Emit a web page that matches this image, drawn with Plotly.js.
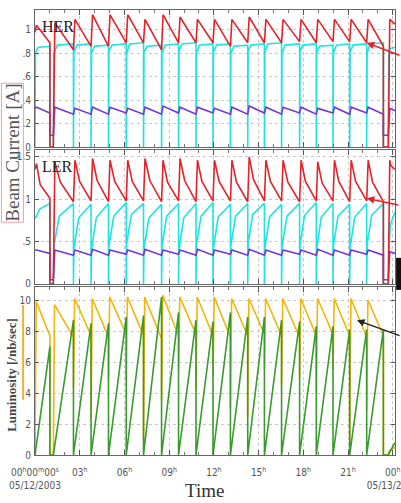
<!DOCTYPE html>
<html><head><meta charset="utf-8">
<script src="https://cdn.plot.ly/plotly-3.0.1.min.js"></script>
<style>html,body{margin:0;padding:0;background:#fff;}#chart{width:401px;height:503px;}</style>
</head><body><div id="chart"></div>
<script>
// ---- fill (injection) schedule, hours from 00h 05/12/2003 ----
const fillStart = [0.00, 1.23, 2.58, 3.76, 4.93, 6.12, 7.28, 8.49, 9.63, 10.80, 11.94, 13.11, 14.27, 15.39, 16.54, 17.75, 18.87, 19.99, 21.11, 22.25, 23.70];
const fillEnd   = [1.00, 2.58, 3.76, 4.93, 6.12, 7.28, 8.49, 9.63, 10.80, 11.94, 13.11, 14.27, 15.39, 16.54, 17.75, 18.87, 19.99, 21.11, 22.25, 23.37, 24.15];

// ---- HER beam current [A] ----
const herFirst = 0.98;
const herPeak = [1.04, 1.06, 1.09, 1.13, 1.13, 1.13, 1.09, 1.13, 1.11, 1.09, 1.09, 1.09, 1.11, 1.09, 1.09, 1.09, 1.09, 1.09, 1.09, 1.09, 1.09];
const herEnd  = [0.89, 0.83, 0.86, 0.86, 0.89, 0.89, 0.83, 0.89, 0.89, 0.89, 0.86, 0.89, 0.89, 0.89, 0.90, 0.89, 0.90, 0.90, 0.89, 0.86, 1.05];
// HER cyan
const herCyDip   = [0, 0, 0, 0, 0, 0, 0, 0, 0, 0, 0, 0, 0, 0, 0, 0, 0, 0, 0, 0, 0];
const herCyStart = [0.80, 0.80, 0.81, 0.80, 0.82, 0.80, 0.81, 0.80, 0.82, 0.80, 0.81, 0.80, 0.82, 0.81, 0.80, 0.82, 0.81, 0.80, 0.81, 0.80, 0.78];
const herCyMid   = [0.85, 0.87, 0.87, 0.86, 0.87, 0.88, 0.86, 0.87, 0.88, 0.87, 0.87, 0.86, 0.87, 0.88, 0.87, 0.87, 0.86, 0.87, 0.87, 0.88, 0.84];
const herCyEnd   = [0.86, 0.88, 0.88, 0.87, 0.88, 0.89, 0.87, 0.88, 0.89, 0.88, 0.88, 0.87, 0.88, 0.89, 0.88, 0.88, 0.87, 0.88, 0.88, 0.89, 0.85];
// HER purple
const herPuFirst = 0.33;
const herPuPeak = [0.34, 0.34, 0.33, 0.34, 0.34, 0.33, 0.34, 0.35, 0.34, 0.34, 0.33, 0.34, 0.35, 0.34, 0.34, 0.34, 0.33, 0.34, 0.34, 0.34, 0.33];
const herPuEnd  = [0.29, 0.28, 0.28, 0.28, 0.29, 0.28, 0.28, 0.29, 0.28, 0.29, 0.28, 0.28, 0.29, 0.28, 0.29, 0.28, 0.29, 0.28, 0.29, 0.28, 0.31];

// ---- LER beam current [A] ----
const lerFirst = 1.35;
const lerPeak = [1.42, 1.44, 1.46, 1.48, 1.46, 1.46, 1.48, 1.46, 1.48, 1.46, 1.46, 1.46, 1.50, 1.46, 1.46, 1.46, 1.44, 1.46, 1.46, 1.46, 1.46];
const lerMid  = [1.17, 1.20, 1.21, 1.22, 1.21, 1.21, 1.22, 1.20, 1.22, 1.21, 1.21, 1.20, 1.23, 1.21, 1.20, 1.21, 1.19, 1.21, 1.21, 1.20, 1.40];
const lerEnd  = [1.01, 0.97, 0.98, 0.97, 0.98, 0.98, 0.97, 0.98, 0.97, 0.98, 0.98, 0.97, 0.98, 0.98, 0.97, 0.98, 0.98, 0.97, 0.98, 0.97, 1.35];
// LER cyan
const lerCyDip   = [0.78, 0, 0, 0, 0, 0, 0, 0, 0, 0, 0, 0, 0, 0, 0, 0, 0, 0, 0, 0, 0];
const lerCyStart = [0.78, 0.45, 0.42, 0.40, 0.45, 0.48, 0.42, 0.45, 0.40, 0.46, 0.42, 0.45, 0.48, 0.42, 0.44, 0.46, 0.42, 0.45, 0.43, 0.46, 0.40];
const lerCyMid   = [0.88, 0.80, 0.78, 0.78, 0.80, 0.82, 0.78, 0.80, 0.78, 0.80, 0.79, 0.80, 0.82, 0.79, 0.80, 0.81, 0.79, 0.80, 0.79, 0.81, 0.70];
const lerCyEnd   = [0.95, 0.95, 0.94, 0.95, 0.96, 0.95, 0.94, 0.95, 0.95, 0.96, 0.94, 0.95, 0.95, 0.94, 0.95, 0.96, 0.95, 0.94, 0.95, 0.95, 0.85];
// LER purple
const lerPuFirst = 0.40;
const lerPuPeak = [0.40, 0.40, 0.40, 0.41, 0.40, 0.40, 0.41, 0.40, 0.40, 0.41, 0.40, 0.40, 0.41, 0.40, 0.40, 0.40, 0.41, 0.40, 0.40, 0.40, 0.38];
const lerPuEnd  = [0.36, 0.34, 0.34, 0.34, 0.35, 0.34, 0.34, 0.35, 0.34, 0.34, 0.35, 0.34, 0.34, 0.34, 0.35, 0.34, 0.34, 0.34, 0.35, 0.34, 0.36];

// ---- Luminosity [/nb/sec] ----
const lumDip  = [0, 0, 4.3, 2.4, 5.0, 4.8, 1.0, 3.5, 5.5, 4.2, 5.0, 3.0, 2.5, 5.5, 4.5, 5.0, 4.0, 5.5, 0.5, 2.9, 0];
const lumPeak = [9.9, 9.7, 10.1, 10.1, 10.2, 10.2, 10.2, 10.3, 10.2, 10.2, 10.2, 10.1, 10.1, 10.1, 10.1, 10.1, 10.1, 10.1, 10.1, 10.0, 0.3];
const lumEnd  = [7.7, 7.6, 7.7, 7.6, 7.8, 7.7, 7.5, 7.7, 7.8, 7.7, 7.6, 7.7, 7.8, 7.7, 7.6, 7.7, 7.8, 7.7, 7.6, 7.7, 0.5];
// integrated luminosity per fill (green)
const intZero = [0, 0, 0, 0, 0, 0, 0, 0, 0, 0, 0, 0, 0, 0, 0, 0, 0, 0, 0, 0, 0];
const intEnd  = [7.0, 8.7, 8.5, 8.5, 8.9, 9.0, 10.2, 9.2, 8.7, 8.6, 9.2, 8.9, 8.9, 8.7, 8.6, 8.3, 8.3, 8.1, 8.1, 8.1, 0.8];

// ---- axis ticks ----
const xTickVals = [0, 3, 6, 9, 12, 15, 18, 21, 24];
const xTickText = ['00<sup>h</sup>00<sup>m</sup>00<sup>s</sup><br>05/12/2003', '03<sup>h</sup>', '06<sup>h</sup>', '09<sup>h</sup>', '12<sup>h</sup>', '15<sup>h</sup>', '18<sup>h</sup>', '21<sup>h</sup>', '00<sup>h</sup><br>05/13/2003'];
const herTickVals = [0, 0.2, 0.4, 0.6, 0.8, 1];
const herTickText = ['0', '.2', '.4', '.6', '.8', '1'];
const lerTickVals = [0, 0.5, 1, 1.5];
const lerTickText = ['0', '.5', '1', '1.5'];
const lumTickVals = [0, 2, 4, 6, 8, 10];

// ---- builders ----
function sawtooth(first, peak, end, abortVal, rise, mid, midFrac) {
  const x = [], y = [];
  for (let i = 0; i < fillStart.length; i++) {
    const s = fillStart[i], e = fillEnd[i];
    if (i === 0) { x.push(s); y.push(first); }
    else if (s > fillEnd[i - 1] + 1e-9) { x.push(fillEnd[i - 1], s); y.push(abortVal, abortVal); }
    x.push(s + rise); y.push(peak[i]);
    if (mid) { x.push(s + midFrac * (e - s)); y.push(mid[i]); }
    x.push(e); y.push(end[i]);
  }
  return {x, y};
}
function dropSeries(dip, start, end, abortVal, rise, mid, midFrac) {
  const x = [], y = [];
  for (let i = 0; i < fillStart.length; i++) {
    const s = fillStart[i], e = fillEnd[i];
    if (i > 0 && s > fillEnd[i - 1] + 1e-9) { x.push(fillEnd[i - 1], s); y.push(abortVal, abortVal); }
    else { x.push(s); y.push(dip[i]); }
    x.push(s + rise); y.push(start[i]);
    if (mid) { x.push(s + midFrac * (e - s)); y.push(mid[i]); }
    x.push(e); y.push(end[i]);
  }
  return {x, y};
}

const RED = '#e4222a', CYAN = '#1fe3e3', PURPLE = '#7338d8', YELLOW = '#f2b50a', GREEN = '#3a9a2e';
function tr(d, xa, ya, color) {
  return {x: d.x, y: d.y, xaxis: xa, yaxis: ya, type: 'scatter', mode: 'lines',
          line: {color: color, width: 1.6}, hoverinfo: 'skip'};
}

const traces = [
  tr(dropSeries(herCyDip, herCyStart, herCyEnd, 0, 0.03, herCyMid, 0.2), 'x3', 'y3', CYAN),
  tr(sawtooth(herPuFirst, herPuPeak, herPuEnd, 0.10, 0.1), 'x3', 'y3', PURPLE),
  tr(sawtooth(herFirst, herPeak, herEnd, 0, 0.1), 'x3', 'y3', RED),
  tr(dropSeries(lerCyDip, lerCyStart, lerCyEnd, 0, 0.03, lerCyMid, 0.3), 'x2', 'y2', CYAN),
  tr(sawtooth(lerPuFirst, lerPuPeak, lerPuEnd, 0.05, 0.1), 'x2', 'y2', PURPLE),
  tr(sawtooth(lerFirst, lerPeak, lerEnd, 0, 0.1, lerMid, 0.35), 'x2', 'y2', RED),
  tr(dropSeries(lumDip, lumPeak, lumEnd, 0, 0.08), 'x', 'y', YELLOW),
  tr(dropSeries(intZero, intZero, intEnd, 0, 0), 'x', 'y', GREEN)
];

const tickFont = {family: "'Liberation Sans Narrow', 'DejaVu Sans Condensed', 'Arial Narrow', sans-serif", size: 10, color: '#555'};
const serif = "'Liberation Serif', 'DejaVu Serif', serif";
function xax(anchor, labels) {
  return {anchor: anchor, range: [0, 24.15], domain: [0, 1], tickmode: 'array', tickvals: xTickVals,
          ticktext: xTickText, showticklabels: labels, ticks: 'inside', ticklen: 5, tickcolor: '#555',
          minor: {tickmode: 'linear', tick0: 0, dtick: 1, ticks: 'inside', ticklen: 3, tickcolor: '#777', showgrid: false},
          showline: true, linecolor: '#666', linewidth: 1, mirror: 'ticks', showgrid: true,
          gridcolor: '#c8c8c8', griddash: 'dot', gridwidth: 1, zeroline: false, tickfont: tickFont,
          ticklabelstandoff: 8, ticklabeloverflow: 'allow', fixedrange: true};
}
function yax(domain, range, vals, text) {
  const a = {domain: domain, range: range, tickmode: 'array', tickvals: vals, ticks: 'inside', ticklen: 4,
          tickcolor: '#555', showline: true, linecolor: '#666', linewidth: 1, mirror: 'ticks', showgrid: true,
          gridcolor: '#c8c8c8', griddash: 'dot', zeroline: false, tickfont: tickFont, ticklabelstandoff: 1, fixedrange: true};
  if (text) a.ticktext = text;
  return a;
}

const layout = {
  width: 401, height: 503,
  margin: {l: 35, r: 6, t: 10, b: 48, pad: 0},
  paper_bgcolor: '#ffffff', plot_bgcolor: '#ffffff',
  showlegend: false,
  xaxis: xax('y', true),
  xaxis2: Object.assign(xax('y2', false), {matches: 'x'}),
  xaxis3: Object.assign(xax('y3', false), {matches: 'x'}),
  yaxis: Object.assign(yax([0, 0.3775], [0, 10.84], lumTickVals, null), {anchor: 'x'}),
  yaxis2: Object.assign(yax([0.3843, 0.6854], [0, 1.58], lerTickVals, lerTickText), {anchor: 'x2'}),
  yaxis3: Object.assign(yax([0.6921, 1], [0, 1.17], herTickVals, herTickText), {anchor: 'x3'}),
  annotations: [
    {text: 'HER', xref: 'x3 domain', yref: 'y3 domain', x: 0.015, y: 0.88, xanchor: 'left', yanchor: 'middle',
     showarrow: false, font: {family: serif, size: 16, color: '#222'}},
    {text: 'LER', xref: 'x2 domain', yref: 'y2 domain', x: 0.015, y: 0.88, xanchor: 'left', yanchor: 'middle',
     showarrow: false, font: {family: serif, size: 16, color: '#222'}},
    {text: 'Beam Current [A]', xref: 'paper', yref: 'paper', x: -0.063, y: 0.68, textangle: -90,
     xanchor: 'center', yanchor: 'middle', showarrow: false, bordercolor: '#f2a0a0', borderwidth: 1, borderpad: 0,
     font: {family: serif, size: 19, color: '#555'}},
    {text: '<b>Luminosity [/nb/sec]</b>', xref: 'paper', yref: 'paper', x: -0.064, y: 0.18, textangle: -90,
     xanchor: 'center', yanchor: 'middle', showarrow: false, font: {family: serif, size: 13, color: '#444'}},
    {text: 'Time', xref: 'paper', yref: 'paper', x: 0.472, y: -0.079, xanchor: 'center', yanchor: 'middle',
     showarrow: false, font: {family: serif, size: 19, color: '#333'}},
    {text: '', xref: 'x3', yref: 'y3', x: 22.25, y: 0.89, ax: 36, ay: 13, showarrow: true,
     arrowhead: 2, arrowsize: 1, arrowwidth: 1.5, arrowcolor: RED},
    {text: '', xref: 'x2', yref: 'y2', x: 22.26, y: 1.01, ax: 33, ay: 7, showarrow: true,
     arrowhead: 2, arrowsize: 1, arrowwidth: 1.5, arrowcolor: RED},
    {text: '', xref: 'x', yref: 'y', x: 21.6, y: 8.7, ax: 45, ay: 16, showarrow: true,
     arrowhead: 2, arrowsize: 1, arrowwidth: 1.5, arrowcolor: '#222'}
  ],
  shapes: [
    {type: 'line', xref: 'paper', yref: 'paper', x0: -0.033, x1: -0.033, y0: 0.124, y1: 0.337,
     line: {color: '#f0b030', width: 2}},
    {type: 'rect', xref: 'paper', yref: 'paper', x0: 1.003, x1: 1.02, y0: 0.371, y1: 0.443,
     fillcolor: '#111', line: {width: 0}}
  ]
};

Plotly.newPlot('chart', traces, layout, {staticPlot: true, displayModeBar: false});
</script></body></html>
